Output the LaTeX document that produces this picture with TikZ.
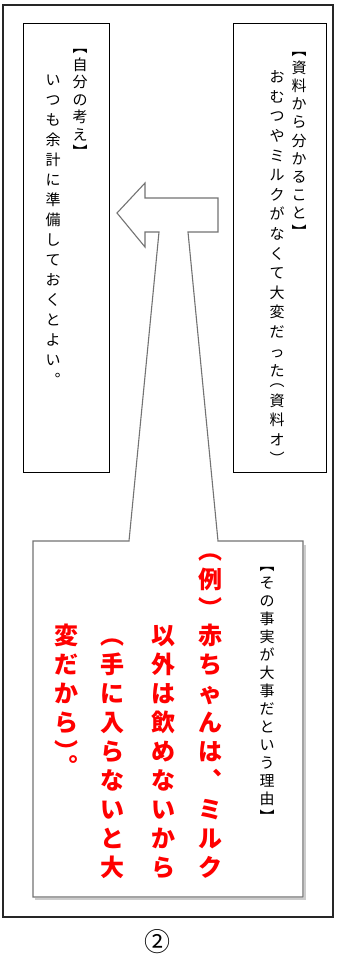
\documentclass[tikz,border=0pt]{standalone}
\usepackage{fontspec}
\setmainfont{Noto Sans CJK JP}
\usetikzlibrary{positioning}

% vertical (tategaki) column: one cell per character
\ExplSyntaxOn
\dim_new:N \l__tate_adv_dim
\cs_new_protected:Npn \__tate_cell:nnn #1#2#3
  {
    \hbox_to_wd:nn {1em}
      { \hss \vbox_to_ht:nn {#1} { \skip_vertical:n {#2} \hbox:n { \smash{#3} } \vss } \hss }
  }
\NewDocumentCommand \tate { m m }
  {
    \dim_set:Nn \l__tate_adv_dim {#1}
    \vbox:n
      {
        \offinterlineskip
        \tl_map_inline:nn {#2}
          {
            \str_case:nnF {##1}
              {
                {︵} { \__tate_cell:nnn {0.5\l__tate_adv_dim} {0.38em} {##1} }
                {︶} { \__tate_cell:nnn {0.5\l__tate_adv_dim} {(\l__tate_adv_dim-1em)/2+0.88em} {##1} }
              }
              { \__tate_cell:nnn {\l__tate_adv_dim} {(\l__tate_adv_dim-1em)/2+0.88em} {##1} }
          }
      }
  }
\ExplSyntaxOff

\tikzset{
  frame/.style={draw=black!85, line width=1.3pt},
  notebox/.style={draw, line width=1pt, minimum width=86pt, minimum height=449pt, inner sep=0pt},
  tatetext/.style={inner sep=0pt, anchor=north, font=\fontsize{15}{15}\selectfont},
  reitext/.style={inner sep=0pt, anchor=north, text=red, font=\fontsize{24}{24}\selectfont\bfseries},
  callout/.style={draw=black!55, line width=1.1pt, fill=white, line join=miter},
}

\begin{document}
\begin{tikzpicture}[x=1pt,y=-1pt]
  \useasboundingbox[fill=white] (0,0) rectangle (338,962);
  \draw[frame] (3,5) rectangle (333,917);

  \node[notebox] (thinkbox) at (66,247.5) {};
  \node[notebox, minimum width=93pt] (factbox) at (279.5,247.5) {};

  % arrow + reason box
  \draw[black!20, line width=1.5pt] (305,545) -- (305,899) -- (35,899);
  \draw[callout] (117,213) -- (145,183) -- (145,198) -- (218,198) -- (218,232)
    -- (188,232) -- (218,541) -- (303,541) -- (303,897) -- (33,897) -- (33,541)
    -- (129,541) -- (159,232) -- (145,232) -- (145,247) -- cycle;

  \node[tatetext] (think_h) at (80,38) {\tate{17.5pt}{︻自分の考え︼}};
  \node[tatetext] (think_t) at (53,70) {\tate{20pt}{いつも余計に準備しておくとよい︒}};

  \node[tatetext] (fact_h) at (299,40) {\tate{18.2pt}{︻資料から分かること︼}};
  \node[tatetext] (fact_t) at (277,67) {\tate{19.6pt}{おむつやミルクがなくて大変だった︵資料オ︶}};

  \node[tatetext] (reason_h) at (267,556) {\tate{18pt}{︻その事実が大事だという理由︼}};
  \node[reitext] (rei_0) at (210,550) {\tate{29pt}{︵例︶}};
  \node[reitext] (rei_a) at (210,621) {\tate{29pt}{赤ちゃんは︑ミルク}};
  \node[reitext] (rei_b) at (163,621) {\tate{29pt}{以外は飲めないから}};
  \node[reitext] (rei_c) at (112,635.5) {\tate{29pt}{︵手に入らないと大}};
  \node[reitext] (rei_d) at (66,621) {\tate{29pt}{変だから︶︒}};

  \node[font=\fontsize{26}{26}\selectfont] (num) at (157,942) {②};
\end{tikzpicture}
\end{document}
